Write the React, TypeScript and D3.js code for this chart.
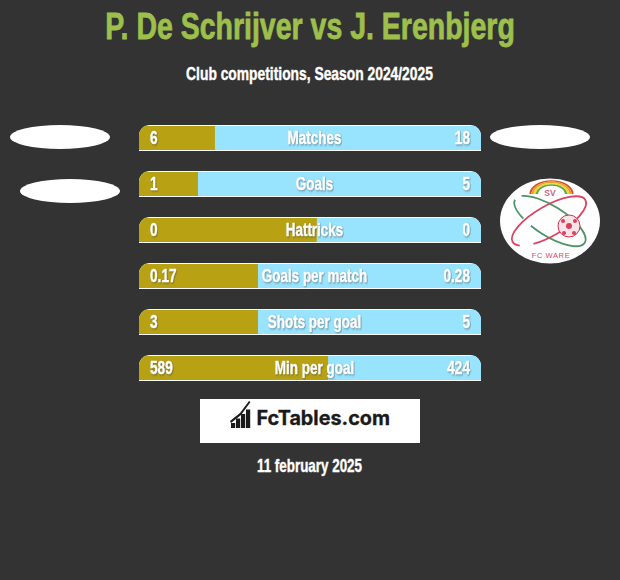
import React from 'react';
import * as d3 from 'd3';

const labels = ['Matches', 'Goals', 'Hattricks', 'Goals per match', 'Shots per goal', 'Min per goal'];
const leftValues = ['6', '1', '0', '0.17', '3', '589'];
const rightValues = ['18', '5', '0', '0.28', '5', '424'];
// share of the bar taken by the left player
const leftShares = [0.222, 0.1725, 0.52, 0.348, 0.348, 0.553];
const rainbow = ['#d8502e', '#ee9c22', '#e8d92c', '#5fa84a'];

const width = 620;
const height = 580;
const barH = 26;

const x = d3.scaleLinear().domain([0, 1]).range([139, 481]);
const y = d3.scaleBand<string>().domain(labels).range([125, 381]).paddingInner(20 / 46).paddingOuter(0);

const narrow = 'Liberation Sans, sans-serif';

// narrow text: the original face is condensed, so squeeze a bold one
const Squeezed = ({ px, py, size, sx, anchor = 'middle', fill = '#fff', weight = 0.4, shadow = false, children }: any) => (
  <text
    transform={`translate(${px},${py}) scale(${sx},1)`}
    textAnchor={anchor}
    fontFamily={narrow}
    fontWeight={700}
    fontSize={size}
    fill={fill}
    stroke={fill}
    strokeWidth={weight}
    style={shadow ? { filter: 'drop-shadow(1.5px 1.5px 1px rgba(60,60,60,0.5))' } : undefined}
  >
    {children}
  </text>
);

const barPath = (x0: number, y0: number, w: number, h: number, r: number) => {
  const p = d3.path();
  p.moveTo(x0, y0 + h);
  p.lineTo(x0, y0 + r);
  p.arcTo(x0, y0, x0 + r, y0, r);
  p.lineTo(x0 + w - r, y0);
  p.arcTo(x0 + w, y0, x0 + w, y0 + r, r);
  p.lineTo(x0 + w, y0 + h);
  p.closePath();
  return p.toString();
};

const Crest = () => {
  const arc = d3.arc();
  return (
    <g>
      <ellipse cx={550} cy={221} rx={50} ry={42.5} fill="#fff" />
      <g transform="translate(551.5,194) scale(1,0.62)">
        {rainbow.map((c, i) => (
          <path
            key={c}
            fill={c}
            d={arc({
              innerRadius: 20 - i * 2.2,
              outerRadius: 22.2 - i * 2.2,
              startAngle: -Math.PI / 2,
              endAngle: Math.PI / 2,
            }) as string}
          />
        ))}
      </g>
      <text x={550} y={196} textAnchor="middle" fontFamily={narrow} fontWeight={700} fontSize={8.5} fill="#d0648a">SV</text>
      <ellipse cx={550} cy={221} rx={41} ry={15} transform="rotate(32 550 221)" fill="none" stroke="#4c9468" strokeWidth={1.8} strokeDasharray="60 10 22 8 200" />
      <ellipse cx={549} cy={221} rx={42} ry={15} transform="rotate(-30 549 221)" fill="none" stroke="#dc4562" strokeWidth={1.8} strokeDasharray="72 14 200" />
      <circle cx={569} cy={226} r={11} fill="#fbe3e8" stroke="#d8304f" strokeWidth={1} />
      <circle cx={569} cy={226} r={3} fill="#d8405f" />
      <circle cx={563} cy={221} r={2} fill="#d8405f" />
      <circle cx={575} cy={221} r={2} fill="#d8405f" />
      <circle cx={564} cy={233} r={2} fill="#d8405f" />
      <circle cx={574} cy={233} r={2} fill="#d8405f" />
      <text x={551} y={258} textAnchor="middle" fontFamily={narrow} fontSize={7.5} fill="#d0486a" letterSpacing={0.6}>FC WARE</text>
    </g>
  );
};

const App = () => (
  <svg width={width} height={height} style={{ position: 'absolute', left: 0, top: 0 }}>
    <rect width={width} height={height} fill="#333333" />

    <Squeezed px={310} py={39} size={37} sx={0.77} fill="#9dbf4c" weight={0.8}>P. De Schrijver vs J. Erenbjerg</Squeezed>
    <Squeezed px={309.5} py={80} size={18} sx={0.769}>Club competitions, Season 2024/2025</Squeezed>

    <ellipse cx={60} cy={137} rx={50} ry={12} fill="#fff" />
    <ellipse cx={70} cy={191} rx={50} ry={12} fill="#fff" />
    <ellipse cx={540} cy={137} rx={50} ry={12} fill="#fff" />
    <Crest />

    {labels.map((name, i) => {
      const top = y(name) as number;
      const clipId = `bar-${i}`;
      const outline = barPath(x(0), top, x(1) - x(0), barH, 11);
      return (
        <g key={name}>
          <clipPath id={clipId}><path d={outline} /></clipPath>
          <g clipPath={`url(#${clipId})`}>
            <rect x={x(0)} y={top} width={x(1) - x(0)} height={barH} fill="#fff" />
            <rect x={x(0)} y={top + 1} width={x(1) - x(0)} height={barH - 2} fill="#98e4ff" />
            <rect x={x(0)} y={top + 1} width={x(leftShares[i]) - x(0)} height={barH - 2} fill="#b8a213" />
          </g>
          <Squeezed px={150} py={top + 19} size={18} sx={0.76} anchor="start" shadow>{leftValues[i]}</Squeezed>
          <Squeezed px={314.5} py={top + 19} size={18} sx={0.75} shadow>{name}</Squeezed>
          <Squeezed px={470} py={top + 19} size={18} sx={0.76} anchor="end" shadow>{rightValues[i]}</Squeezed>
        </g>
      );
    })}

    <rect x={200} y={399} width={220} height={44} fill="#fff" />
    <g fill="#1a1a1a">
      {[0, 1, 2, 3].map(k => (
        <rect key={k} x={231 + k * 5} y={423 - k * 4.5} width={4.2} height={5 + k * 4.5} />
      ))}
      <path d="M230 421 L240 413 L249 401 L250.5 402 L241 415 L231 423 Z" />
    </g>
    <text x={256.5} y={424.5} fontFamily="Inter, sans-serif" fontWeight={700} fontSize={19.8} fill="#1a1a1a" stroke="#1a1a1a" strokeWidth={0.3}>FcTables.com</text>

    <Squeezed px={309.5} py={472} size={18} sx={0.745}>11 february 2025</Squeezed>
  </svg>
);

export default App;
